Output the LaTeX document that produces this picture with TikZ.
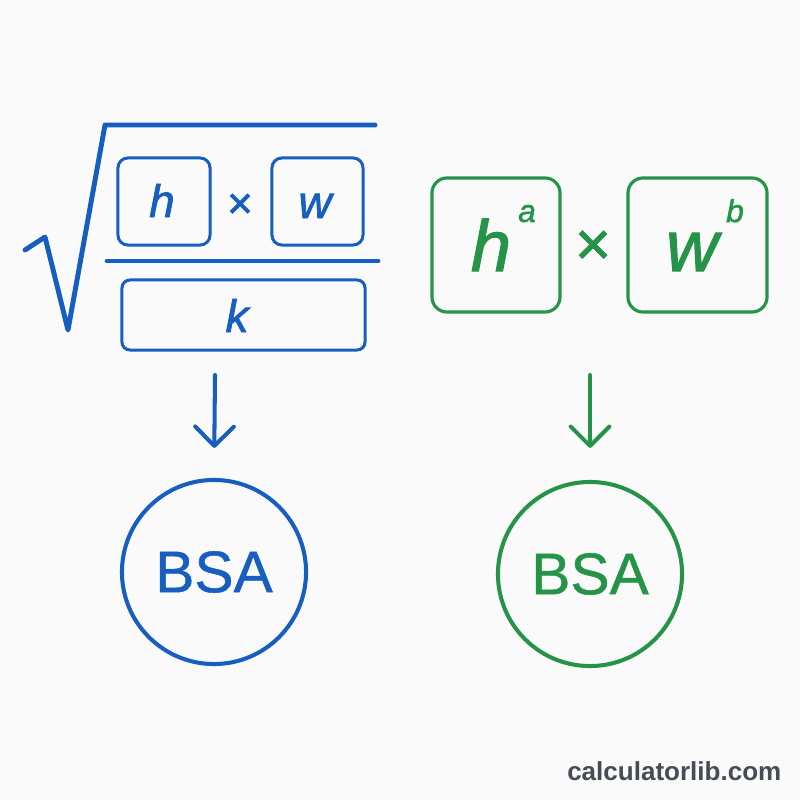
\documentclass[tikz,border=0pt]{standalone}
\usepackage{fontspec}
\setmainfont{Liberation Sans}
\newfontfamily\varfont{Liberation Sans Italic}[FakeBold=1.6]
\newfontfamily\symfont{Liberation Sans}[FakeBold=1.6]
\newfontfamily\bsafont{Liberation Sans}[FakeBold=0.8]
\usetikzlibrary{arrows.meta}
\definecolor{bsablue}{RGB}{22,94,192}
\definecolor{bsagreen}{RGB}{38,148,72}
\definecolor{sitegray}{RGB}{70,76,86}
\definecolor{paper}{RGB}{250,250,250}

\begin{document}
\begin{tikzpicture}[x=0.01cm,y=-0.01cm,>={Straight Barb[length=5.5pt,width=11pt,line cap=round,line join=round]}]
	\tikzstyle{bluebox} = [draw=bsablue,line width=0.85pt,inner sep=0pt,rounded corners=2.8pt];
	\tikzstyle{greenbox} = [draw=bsagreen,line width=0.9pt,inner sep=0pt,rounded corners=4.3pt];
	\tikzstyle{bluevar} = [text=bsablue,inner sep=0pt,anchor=base,font=\varfont\fontsize{13}{15}\selectfont];
	\tikzstyle{greenvar} = [text=bsagreen,inner sep=0pt,anchor=base,font=\varfont\fontsize{20.5}{24}\selectfont];
	\tikzstyle{greenexp} = [text=bsagreen,inner sep=0pt,anchor=base,font=\varfont\fontsize{9}{10}\selectfont];
	\tikzstyle{result} = [circle,draw,line width=1.15pt,minimum size=1.84cm,inner sep=0pt,font=\bsafont\fontsize{16.7}{20}\selectfont];
	\fill[paper] (0,0) rectangle (800,800);
	\useasboundingbox (0,0) rectangle (800,800);
	% left: root of (h x w)/k
	\draw[bsablue,line width=1.4pt,line join=round,line cap=round] (25,250) -- (45,237) -- (68,330) -- (105,125) -- (375,125);
	\draw[bsablue,line width=1.4pt,line cap=round] (107,261) -- (378,261);
	\node[bluebox,minimum width=0.92cm,minimum height=0.87cm] (hbox) at (164,201.5) {};
	\node[bluebox,minimum width=0.91cm,minimum height=0.87cm] (wbox) at (317.5,201.5) {};
	\node[bluebox,minimum width=2.43cm,minimum height=0.70cm,rounded corners=2.3pt] (kbox) at (243.5,315) {};
	\node[bluevar] (hvar) at (162,217) {h};
	\node[bluevar] (wvar) at (315,218) {w};
	\node[bluevar] (kvar) at (237,332) {k};
	\node[text=bsablue,inner sep=0pt,font=\symfont\fontsize{12.5}{15}\selectfont] (times1) at (240,206) {×};
	% right: h^a x w^b
	\node[greenbox,minimum width=1.28cm,minimum height=1.34cm] (habox) at (496,245) {};
	\node[greenbox,minimum width=1.39cm,minimum height=1.34cm] (wbbox) at (697.5,245) {};
	\node[greenvar] (hvar2) at (491,271) {h};
	\node[greenexp] (aexp) at (527,222) {a};
	\node[greenvar] (wvar2) at (692,271) {w};
	\node[greenexp] (bexp) at (735,222) {b};
	\node[text=bsagreen,inner sep=0pt,font=\symfont\fontsize{17.5}{20}\selectfont] (times2) at (593,248) {×};
	% results
	\node[result,draw=bsablue,text=bsablue] (bsa1) at (214,572) {BSA};
	\node[result,draw=bsagreen,text=bsagreen] (bsa2) at (590,574) {BSA};
	\coordinate (from1) at (215,375);
	\coordinate (from2) at (590,375);
	\draw[->,bsablue,line width=1.15pt,line cap=round,shorten >=0.3cm] (from1) -- (bsa1.north);
	\draw[->,bsagreen,line width=1.15pt,line cap=round,shorten >=0.32cm] (from2) -- (bsa2.north);
	\node[anchor=base east,inner sep=0pt,text=sitegray,font=\bfseries\fontsize{7.4}{9}\selectfont] (site) at (782,780) {calculatorlib.com};
\end{tikzpicture}
\end{document}
